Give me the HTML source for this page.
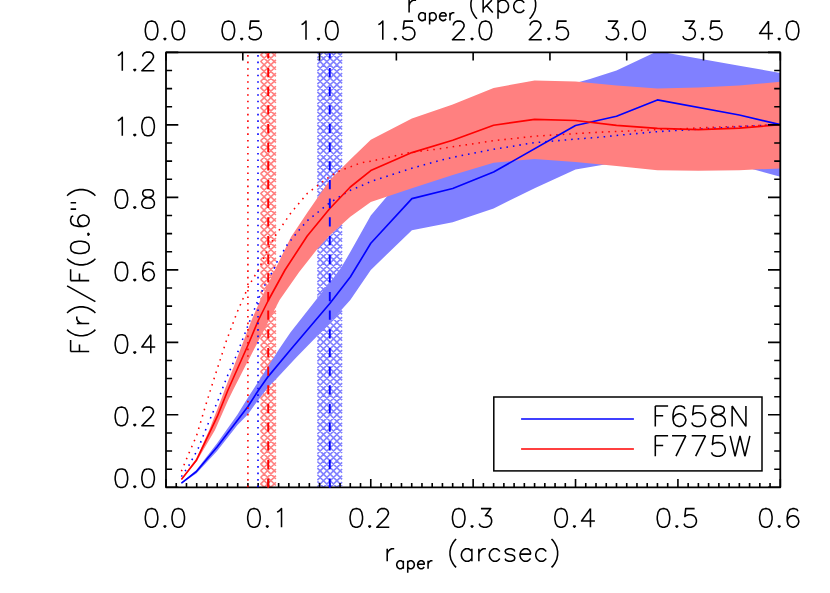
<!DOCTYPE html>
<html lang="en"><head><meta charset="utf-8"><title>Aperture growth curves</title>
<style>html,body{margin:0;padding:0;background:#fff}body{width:830px;height:593px;overflow:hidden;font-family:"Liberation Sans",sans-serif}svg{display:block}.t{font-family:"Liberation Sans",sans-serif;fill:#000;fill-opacity:0}</style></head><body>
<svg width="830" height="593" viewBox="0 0 830 593">
<rect width="830" height="593" fill="#fff"/>
<defs><clipPath id="c"><rect x="166.0" y="52.4" width="614.3" height="434.9"/></clipPath></defs>
<g clip-path="url(#c)">
<path d="M317.40 51.18L342.10 26.77M317.40 57.78L342.10 33.37M317.40 64.38L342.10 39.97M317.40 70.98L342.10 46.57M317.40 77.58L342.10 53.17M317.40 84.18L342.10 59.77M317.40 90.78L342.10 66.37M317.40 97.38L342.10 72.97M317.40 103.98L342.10 79.57M317.40 110.58L342.10 86.17M317.40 117.18L342.10 92.77M317.40 123.78L342.10 99.37M317.40 130.38L342.10 105.97M317.40 136.98L342.10 112.57M317.40 143.58L342.10 119.17M317.40 150.18L342.10 125.77M317.40 156.78L342.10 132.37M317.40 163.38L342.10 138.97M317.40 169.98L342.10 145.57M317.40 176.58L342.10 152.17M317.40 183.18L342.10 158.77M317.40 189.78L342.10 165.37M317.40 196.38L342.10 171.97M317.40 202.98L342.10 178.57M317.40 209.58L342.10 185.17M317.40 216.18L342.10 191.77M317.40 222.78L342.10 198.37M317.40 229.38L342.10 204.97M317.40 235.98L342.10 211.57M317.40 242.58L342.10 218.17M317.40 249.18L342.10 224.77M317.40 255.78L342.10 231.37M317.40 262.38L342.10 237.97M317.40 268.98L342.10 244.57M317.40 275.58L342.10 251.17M317.40 282.18L342.10 257.77M317.40 288.78L342.10 264.37M317.40 295.38L342.10 270.97M317.40 301.98L342.10 277.57M317.40 308.58L342.10 284.17M317.40 315.18L342.10 290.77M317.40 321.78L342.10 297.37M317.40 328.38L342.10 303.97M317.40 334.98L342.10 310.57M317.40 341.58L342.10 317.17M317.40 348.18L342.10 323.77M317.40 354.78L342.10 330.37M317.40 361.38L342.10 336.97M317.40 367.98L342.10 343.57M317.40 374.58L342.10 350.17M317.40 381.18L342.10 356.77M317.40 387.78L342.10 363.37M317.40 394.38L342.10 369.97M317.40 487.92L342.10 512.33M317.40 400.98L342.10 376.57M317.40 481.32L342.10 505.73M317.40 407.58L342.10 383.17M317.40 474.72L342.10 499.13M317.40 414.18L342.10 389.77M317.40 468.12L342.10 492.53M317.40 420.78L342.10 396.37M317.40 461.52L342.10 485.93M317.40 427.38L342.10 402.97M317.40 454.92L342.10 479.33M317.40 433.98L342.10 409.57M317.40 448.32L342.10 472.73M317.40 440.58L342.10 416.17M317.40 441.72L342.10 466.13M317.40 447.18L342.10 422.77M317.40 435.12L342.10 459.53M317.40 453.78L342.10 429.37M317.40 428.52L342.10 452.93M317.40 460.38L342.10 435.97M317.40 421.92L342.10 446.33M317.40 466.98L342.10 442.57M317.40 415.32L342.10 439.73M317.40 473.58L342.10 449.17M317.40 408.72L342.10 433.13M317.40 480.18L342.10 455.77M317.40 402.12L342.10 426.53M317.40 486.78L342.10 462.37M317.40 395.52L342.10 419.93M317.40 493.38L342.10 468.97M317.40 388.92L342.10 413.33M317.40 499.98L342.10 475.57M317.40 382.32L342.10 406.73M317.40 506.58L342.10 482.17M317.40 375.72L342.10 400.13M317.40 513.18L342.10 488.77M317.40 369.12L342.10 393.53M317.40 362.52L342.10 386.93M317.40 355.92L342.10 380.33M317.40 349.32L342.10 373.73M317.40 342.72L342.10 367.13M317.40 336.12L342.10 360.53M317.40 329.52L342.10 353.93M317.40 322.92L342.10 347.33M317.40 316.32L342.10 340.73M317.40 309.72L342.10 334.13M317.40 303.12L342.10 327.53M317.40 296.52L342.10 320.93M317.40 289.92L342.10 314.33M317.40 283.32L342.10 307.73M317.40 276.72L342.10 301.13M317.40 270.12L342.10 294.53M317.40 263.52L342.10 287.93M317.40 256.92L342.10 281.33M317.40 250.32L342.10 274.73M317.40 243.72L342.10 268.13M317.40 237.12L342.10 261.53M317.40 230.52L342.10 254.93M317.40 223.92L342.10 248.33M317.40 217.32L342.10 241.73M317.40 210.72L342.10 235.13M317.40 204.12L342.10 228.53M317.40 197.52L342.10 221.93M317.40 190.92L342.10 215.33M317.40 184.32L342.10 208.73M317.40 177.72L342.10 202.13M317.40 171.12L342.10 195.53M317.40 164.52L342.10 188.93M317.40 157.92L342.10 182.33M317.40 151.32L342.10 175.73M317.40 144.72L342.10 169.13M317.40 138.12L342.10 162.53M317.40 131.52L342.10 155.93M317.40 124.92L342.10 149.33M317.40 118.32L342.10 142.73M317.40 111.72L342.10 136.13M317.40 105.12L342.10 129.53M317.40 98.52L342.10 122.93M317.40 91.92L342.10 116.33M317.40 85.32L342.10 109.73M317.40 78.72L342.10 103.13M317.40 72.12L342.10 96.53M317.40 65.52L342.10 89.93M317.40 58.92L342.10 83.33M317.40 52.32L342.10 76.73M317.40 45.72L342.10 70.13M317.40 39.12L342.10 63.53M317.40 32.52L342.10 56.93" stroke="#8080ff" stroke-width="1.6" fill="none"/>
<path d="M260.50 55.12L275.90 40.06M260.50 61.72L275.90 46.66M260.50 68.32L275.90 53.26M260.50 74.92L275.90 59.86M260.50 81.52L275.90 66.46M260.50 88.12L275.90 73.06M260.50 94.72L275.90 79.66M260.50 101.32L275.90 86.26M260.50 107.92L275.90 92.86M260.50 114.52L275.90 99.46M260.50 121.12L275.90 106.06M260.50 127.72L275.90 112.66M260.50 134.32L275.90 119.26M260.50 140.92L275.90 125.86M260.50 147.52L275.90 132.46M260.50 154.12L275.90 139.06M260.50 160.72L275.90 145.66M260.50 167.32L275.90 152.26M260.50 173.92L275.90 158.86M260.50 180.52L275.90 165.46M260.50 187.12L275.90 172.06M260.50 193.72L275.90 178.66M260.50 200.32L275.90 185.26M260.50 206.92L275.90 191.86M260.50 213.52L275.90 198.46M260.50 220.12L275.90 205.06M260.50 226.72L275.90 211.66M260.50 233.32L275.90 218.26M260.50 239.92L275.90 224.86M260.50 246.52L275.90 231.46M260.50 253.12L275.90 238.06M260.50 259.72L275.90 244.66M260.50 266.32L275.90 251.26M260.50 272.92L275.90 257.86M260.50 279.52L275.90 264.46M260.50 286.12L275.90 271.06M260.50 292.72L275.90 277.66M260.50 299.32L275.90 284.26M260.50 305.92L275.90 290.86M260.50 312.52L275.90 297.46M260.50 319.12L275.90 304.06M260.50 325.72L275.90 310.66M260.50 332.32L275.90 317.26M260.50 338.92L275.90 323.86M260.50 345.52L275.90 330.46M260.50 352.12L275.90 337.06M260.50 358.72L275.90 343.66M260.50 365.32L275.90 350.26M260.50 371.92L275.90 356.86M260.50 378.52L275.90 363.46M260.50 385.12L275.90 370.06M260.50 391.72L275.90 376.66M260.50 398.32L275.90 383.26M260.50 483.68L275.90 498.74M260.50 404.92L275.90 389.86M260.50 477.08L275.90 492.14M260.50 411.52L275.90 396.46M260.50 470.48L275.90 485.54M260.50 418.12L275.90 403.06M260.50 463.88L275.90 478.94M260.50 424.72L275.90 409.66M260.50 457.28L275.90 472.34M260.50 431.32L275.90 416.26M260.50 450.68L275.90 465.74M260.50 437.92L275.90 422.86M260.50 444.08L275.90 459.14M260.50 444.52L275.90 429.46M260.50 437.48L275.90 452.54M260.50 451.12L275.90 436.06M260.50 430.88L275.90 445.94M260.50 457.72L275.90 442.66M260.50 424.28L275.90 439.34M260.50 464.32L275.90 449.26M260.50 417.68L275.90 432.74M260.50 470.92L275.90 455.86M260.50 411.08L275.90 426.14M260.50 477.52L275.90 462.46M260.50 404.48L275.90 419.54M260.50 484.12L275.90 469.06M260.50 397.88L275.90 412.94M260.50 490.72L275.90 475.66M260.50 391.28L275.90 406.34M260.50 497.32L275.90 482.26M260.50 384.68L275.90 399.74M260.50 503.92L275.90 488.86M260.50 378.08L275.90 393.14M260.50 371.48L275.90 386.54M260.50 364.88L275.90 379.94M260.50 358.28L275.90 373.34M260.50 351.68L275.90 366.74M260.50 345.08L275.90 360.14M260.50 338.48L275.90 353.54M260.50 331.88L275.90 346.94M260.50 325.28L275.90 340.34M260.50 318.68L275.90 333.74M260.50 312.08L275.90 327.14M260.50 305.48L275.90 320.54M260.50 298.88L275.90 313.94M260.50 292.28L275.90 307.34M260.50 285.68L275.90 300.74M260.50 279.08L275.90 294.14M260.50 272.48L275.90 287.54M260.50 265.88L275.90 280.94M260.50 259.28L275.90 274.34M260.50 252.68L275.90 267.74M260.50 246.08L275.90 261.14M260.50 239.48L275.90 254.54M260.50 232.88L275.90 247.94M260.50 226.28L275.90 241.34M260.50 219.68L275.90 234.74M260.50 213.08L275.90 228.14M260.50 206.48L275.90 221.54M260.50 199.88L275.90 214.94M260.50 193.28L275.90 208.34M260.50 186.68L275.90 201.74M260.50 180.08L275.90 195.14M260.50 173.48L275.90 188.54M260.50 166.88L275.90 181.94M260.50 160.28L275.90 175.34M260.50 153.68L275.90 168.74M260.50 147.08L275.90 162.14M260.50 140.48L275.90 155.54M260.50 133.88L275.90 148.94M260.50 127.28L275.90 142.34M260.50 120.68L275.90 135.74M260.50 114.08L275.90 129.14M260.50 107.48L275.90 122.54M260.50 100.88L275.90 115.94M260.50 94.28L275.90 109.34M260.50 87.68L275.90 102.74M260.50 81.08L275.90 96.14M260.50 74.48L275.90 89.54M260.50 67.88L275.90 82.94M260.50 61.28L275.90 76.34M260.50 54.68L275.90 69.74M260.50 48.08L275.90 63.14M260.50 41.48L275.90 56.54" stroke="#ff8080" stroke-width="1.6" fill="none"/>
<polygon points="181.4,482.7 196.6,469.8 217.1,443.3 237.5,414.4 247.8,397.8 258.1,381.9 268.1,366.5 278.5,350.0 290.4,332.5 323.8,290.0 329.6,283.0 341.4,267.3 350.3,252.0 370.8,215.5 411.9,167.0 452.7,153.0 493.6,131.0 534.6,108.0 575.5,83.0 590.0,79.1 616.5,70.6 657.4,51.2 698.4,58.5 739.3,65.7 780.3,72.9 780.3,176.7 739.3,165.6 698.4,161.0 657.4,160.0 616.5,162.4 575.5,169.5 534.6,188.2 493.6,208.4 452.7,222.3 411.9,230.2 370.8,269.9 350.3,300.0 329.6,323.0 317.7,335.5 296.0,357.7 276.2,378.9 268.1,387.2 258.1,400.2 247.8,414.4 237.5,425.0 217.1,450.9 196.6,473.2 181.4,483.8" fill="#8080ff"/>
<polygon points="181.4,479.0 196.6,458.0 209.2,430.0 220.9,400.0 224.6,390.0 234.2,365.6 251.6,320.0 260.4,300.0 274.8,270.0 291.0,237.0 307.2,212.7 329.6,180.3 350.3,159.5 370.8,139.7 411.9,118.4 452.7,104.5 493.6,87.9 534.6,80.6 575.5,81.5 616.5,85.5 657.4,88.5 698.4,87.5 739.3,85.5 780.3,81.7 780.3,168.4 739.3,170.2 698.4,170.7 657.4,170.2 616.5,165.9 575.5,161.9 534.6,158.9 493.6,162.7 452.7,175.1 411.9,188.2 370.8,202.0 350.3,216.8 329.6,235.5 317.3,249.0 299.2,272.0 279.6,300.0 248.2,360.7 245.6,365.6 233.1,390.0 228.2,400.0 215.0,430.0 196.6,461.5 181.4,480.0" fill="#ff8080"/>
<polyline points="181.4,476.6 189.0,465.3 198.1,448.6 207.9,424.3 217.8,400.8 225.0,382.0 227.3,376.3 237.4,353.0 247.5,326.7 258.7,298.4 264.7,285.3 273.8,269.3 276.9,262.0 287.0,245.0 300.0,229.0 307.2,220.8 329.4,203.0 349.7,190.5 360.0,186.4 370.8,181.5 411.9,168.3 440.0,160.3 460.0,155.8 493.6,149.2 534.6,142.7 575.5,139.1 600.0,137.2 616.0,135.5 657.0,131.7 698.0,129.2 739.0,126.7 780.3,124.6" stroke="#0000ff" stroke-width="1.55" stroke-dasharray="1.55 4.97" fill="none"/>
<polyline points="181.4,471.3 189.0,453.1 196.6,435.7 206.4,403.0 212.4,383.9 214.2,378.3 226.3,340.9 237.4,311.6 248.5,286.3 258.7,269.3 268.8,247.0 275.8,235.0 291.0,212.7 307.2,193.5 329.4,176.7 340.5,170.3 349.7,167.2 360.0,163.1 370.8,161.2 411.9,152.1 440.0,148.8 460.0,145.7 493.6,140.7 534.6,136.2 575.5,133.6 600.0,132.2 657.0,129.7 698.0,128.0 739.0,126.2 780.3,124.6" stroke="#ff0000" stroke-width="1.55" stroke-dasharray="1.55 4.97" fill="none"/>
<polyline points="181.4,483.2 196.6,471.3 217.1,447.0 247.8,406.7 258.1,390.7 268.1,376.6 290.3,350.0 329.8,303.5 350.3,277.0 370.8,243.3 411.9,198.6 452.7,188.5 493.6,172.0 575.5,125.5 616.5,116.3 657.4,99.9 739.3,115.0 780.3,124.6" stroke="#0000ff" stroke-width="1.65" fill="none" stroke-linejoin="round"/>
<polyline points="181.4,479.5 196.6,459.9 217.2,416.7 228.0,390.0 247.8,345.5 258.5,320.0 268.5,300.0 285.0,270.0 307.2,236.0 329.6,208.7 350.3,187.0 370.8,170.6 411.9,152.6 452.7,140.2 493.6,125.2 534.6,119.4 575.5,120.5 616.5,125.4 657.4,128.4 698.4,129.6 739.3,128.1 780.3,124.8" stroke="#ff0000" stroke-width="1.65" fill="none" stroke-linejoin="round"/>
</g>
<path d="M166.00 487.30v-8.20M176.24 487.30v-4.35M186.48 487.30v-4.35M196.72 487.30v-4.35M206.95 487.30v-4.35M217.19 487.30v-4.35M227.43 487.30v-4.35M237.67 487.30v-4.35M247.91 487.30v-4.35M258.14 487.30v-4.35M268.38 487.30v-8.20M278.62 487.30v-4.35M288.86 487.30v-4.35M299.10 487.30v-4.35M309.34 487.30v-4.35M319.57 487.30v-4.35M329.81 487.30v-4.35M340.05 487.30v-4.35M350.29 487.30v-4.35M360.53 487.30v-4.35M370.77 487.30v-8.20M381.00 487.30v-4.35M391.24 487.30v-4.35M401.48 487.30v-4.35M411.72 487.30v-4.35M421.96 487.30v-4.35M432.20 487.30v-4.35M442.44 487.30v-4.35M452.67 487.30v-4.35M462.91 487.30v-4.35M473.15 487.30v-8.20M483.39 487.30v-4.35M493.63 487.30v-4.35M503.87 487.30v-4.35M514.10 487.30v-4.35M524.34 487.30v-4.35M534.58 487.30v-4.35M544.82 487.30v-4.35M555.06 487.30v-4.35M565.30 487.30v-4.35M575.53 487.30v-8.20M585.77 487.30v-4.35M596.01 487.30v-4.35M606.25 487.30v-4.35M616.49 487.30v-4.35M626.73 487.30v-4.35M636.96 487.30v-4.35M647.20 487.30v-4.35M657.44 487.30v-4.35M667.68 487.30v-4.35M677.92 487.30v-8.20M688.16 487.30v-4.35M698.39 487.30v-4.35M708.63 487.30v-4.35M718.87 487.30v-4.35M729.11 487.30v-4.35M739.35 487.30v-4.35M749.59 487.30v-4.35M759.82 487.30v-4.35M770.06 487.30v-4.35M780.30 487.30v-8.20M166.00 52.40v8.20M242.79 52.40v8.20M319.57 52.40v8.20M396.36 52.40v8.20M473.15 52.40v8.20M549.94 52.40v8.20M626.72 52.40v8.20M703.51 52.40v8.20M780.30 52.40v8.20M166.00 487.30h12.30M780.30 487.30h-12.30M166.00 469.18h6.10M780.30 469.18h-6.10M166.00 451.06h6.10M780.30 451.06h-6.10M166.00 432.94h6.10M780.30 432.94h-6.10M166.00 414.82h12.30M780.30 414.82h-12.30M166.00 396.70h6.10M780.30 396.70h-6.10M166.00 378.57h6.10M780.30 378.57h-6.10M166.00 360.45h6.10M780.30 360.45h-6.10M166.00 342.33h12.30M780.30 342.33h-12.30M166.00 324.21h6.10M780.30 324.21h-6.10M166.00 306.09h6.10M780.30 306.09h-6.10M166.00 287.97h6.10M780.30 287.97h-6.10M166.00 269.85h12.30M780.30 269.85h-12.30M166.00 251.73h6.10M780.30 251.73h-6.10M166.00 233.61h6.10M780.30 233.61h-6.10M166.00 215.49h6.10M780.30 215.49h-6.10M166.00 197.37h12.30M780.30 197.37h-12.30M166.00 179.25h6.10M780.30 179.25h-6.10M166.00 161.12h6.10M780.30 161.12h-6.10M166.00 143.00h6.10M780.30 143.00h-6.10M166.00 124.88h12.30M780.30 124.88h-12.30M166.00 106.76h6.10M780.30 106.76h-6.10M166.00 88.64h6.10M780.30 88.64h-6.10M166.00 70.52h6.10M780.30 70.52h-6.10M166.00 52.40h12.30M780.30 52.40h-12.30" stroke="#000" stroke-width="1.6" fill="none"/>
<rect x="166.0" y="52.4" width="614.3" height="434.9" fill="none" stroke="#000" stroke-width="1.8" stroke-linejoin="round"/>
<path d="M329.8 487.8V53.3" stroke="#0000ff" stroke-width="1.9" stroke-dasharray="9.3 9.36" fill="none"/>
<path d="M268.2 487.8V53.3" stroke="#ff0000" stroke-width="1.9" stroke-dasharray="9.3 9.36" fill="none"/>
<path d="M247.9 487.2V53.3" stroke="#ff0000" stroke-width="1.6" stroke-dasharray="1.6 4.923" fill="none"/>
<path d="M258.0 487.2V53.3" stroke="#0000ff" stroke-width="1.6" stroke-dasharray="1.6 4.923" fill="none"/>
<rect x="493.8" y="397" width="268.2" height="73.9" fill="#fff" stroke="#000" stroke-width="1.5"/>
<path d="M521.1 419H633.9" stroke="#0000ff" stroke-width="1.5"/>
<path d="M521.1 448.9H633.9" stroke="#ff0000" stroke-width="1.5"/>
<path d="M150.66 508.62 L147.99 509.50 L146.21 512.16 L145.32 516.58 L145.32 519.24 L146.21 523.66 L147.99 526.32 L150.66 527.20 L152.44 527.20 L155.11 526.32 L156.89 523.66 L157.78 519.24 L157.78 516.58 L156.89 512.16 L155.11 509.50 L152.44 508.62 L150.66 508.62 M164.90 525.43 L164.01 526.32 L164.90 527.20 L165.79 526.32 L164.90 525.43 M177.36 508.62 L174.69 509.50 L172.91 512.16 L172.02 516.58 L172.02 519.24 L172.91 523.66 L174.69 526.32 L177.36 527.20 L179.14 527.20 L181.81 526.32 L183.59 523.66 L184.48 519.24 L184.48 516.58 L183.59 512.16 L181.81 509.50 L179.14 508.62 L177.36 508.62 M253.04 508.62 L250.37 509.50 L248.59 512.16 L247.70 516.58 L247.70 519.24 L248.59 523.66 L250.37 526.32 L253.04 527.20 L254.82 527.20 L257.49 526.32 L259.27 523.66 L260.16 519.24 L260.16 516.58 L259.27 512.16 L257.49 509.50 L254.82 508.62 L253.04 508.62 M267.28 525.43 L266.39 526.32 L267.28 527.20 L268.17 526.32 L267.28 525.43 M277.07 512.16 L278.85 511.27 L281.52 508.62 L281.52 527.20 M355.43 508.62 L352.76 509.50 L350.98 512.16 L350.09 516.58 L350.09 519.24 L350.98 523.66 L352.76 526.32 L355.43 527.20 L357.21 527.20 L359.88 526.32 L361.66 523.66 L362.55 519.24 L362.55 516.58 L361.66 512.16 L359.88 509.50 L357.21 508.62 L355.43 508.62 M369.67 525.43 L368.78 526.32 L369.67 527.20 L370.56 526.32 L369.67 525.43 M377.68 513.04 L377.68 512.16 L378.57 510.39 L379.46 509.50 L381.24 508.62 L384.80 508.62 L386.58 509.50 L387.47 510.39 L388.36 512.16 L388.36 513.93 L387.47 515.70 L385.69 518.35 L376.79 527.20 L389.25 527.20 M457.81 508.62 L455.14 509.50 L453.36 512.16 L452.47 516.58 L452.47 519.24 L453.36 523.66 L455.14 526.32 L457.81 527.20 L459.59 527.20 L462.26 526.32 L464.04 523.66 L464.93 519.24 L464.93 516.58 L464.04 512.16 L462.26 509.50 L459.59 508.62 L457.81 508.62 M472.05 525.43 L471.16 526.32 L472.05 527.20 L472.94 526.32 L472.05 525.43 M480.95 508.62 L490.74 508.62 L485.40 515.70 L488.07 515.70 L489.85 516.58 L490.74 517.47 L491.63 520.12 L491.63 521.89 L490.74 524.55 L488.96 526.32 L486.29 527.20 L483.62 527.20 L480.95 526.32 L480.06 525.43 L479.17 523.66 M560.19 508.62 L557.52 509.50 L555.74 512.16 L554.85 516.58 L554.85 519.24 L555.74 523.66 L557.52 526.32 L560.19 527.20 L561.97 527.20 L564.64 526.32 L566.42 523.66 L567.31 519.24 L567.31 516.58 L566.42 512.16 L564.64 509.50 L561.97 508.62 L560.19 508.62 M574.43 525.43 L573.54 526.32 L574.43 527.20 L575.32 526.32 L574.43 525.43 M590.45 508.62 L581.55 521.00 L594.90 521.00 M590.45 508.62 L590.45 527.20 M662.58 508.62 L659.91 509.50 L658.13 512.16 L657.24 516.58 L657.24 519.24 L658.13 523.66 L659.91 526.32 L662.58 527.20 L664.36 527.20 L667.03 526.32 L668.81 523.66 L669.70 519.24 L669.70 516.58 L668.81 512.16 L667.03 509.50 L664.36 508.62 L662.58 508.62 M676.82 525.43 L675.93 526.32 L676.82 527.20 L677.71 526.32 L676.82 525.43 M694.62 508.62 L685.72 508.62 L684.83 516.58 L685.72 515.70 L688.39 514.81 L691.06 514.81 L693.73 515.70 L695.51 517.47 L696.40 520.12 L696.40 521.89 L695.51 524.55 L693.73 526.32 L691.06 527.20 L688.39 527.20 L685.72 526.32 L684.83 525.43 L683.94 523.66 M764.96 508.62 L762.29 509.50 L760.51 512.16 L759.62 516.58 L759.62 519.24 L760.51 523.66 L762.29 526.32 L764.96 527.20 L766.74 527.20 L769.41 526.32 L771.19 523.66 L772.08 519.24 L772.08 516.58 L771.19 512.16 L769.41 509.50 L766.74 508.62 L764.96 508.62 M779.20 525.43 L778.31 526.32 L779.20 527.20 L780.09 526.32 L779.20 525.43 M797.89 511.27 L797.00 509.50 L794.33 508.62 L792.55 508.62 L789.88 509.50 L788.10 512.16 L787.21 516.58 L787.21 521.00 L788.10 524.55 L789.88 526.32 L792.55 527.20 L793.44 527.20 L796.11 526.32 L797.89 524.55 L798.78 521.89 L798.78 521.00 L797.89 518.35 L796.11 516.58 L793.44 515.70 L792.55 515.70 L789.88 516.58 L788.10 518.35 L787.21 521.00 M150.66 21.12 L147.99 22.00 L146.21 24.66 L145.32 29.08 L145.32 31.74 L146.21 36.16 L147.99 38.82 L150.66 39.70 L152.44 39.70 L155.11 38.82 L156.89 36.16 L157.78 31.74 L157.78 29.08 L156.89 24.66 L155.11 22.00 L152.44 21.12 L150.66 21.12 M164.90 37.93 L164.01 38.82 L164.90 39.70 L165.79 38.82 L164.90 37.93 M177.36 21.12 L174.69 22.00 L172.91 24.66 L172.02 29.08 L172.02 31.74 L172.91 36.16 L174.69 38.82 L177.36 39.70 L179.14 39.70 L181.81 38.82 L183.59 36.16 L184.48 31.74 L184.48 29.08 L183.59 24.66 L181.81 22.00 L179.14 21.12 L177.36 21.12 M227.45 21.12 L224.78 22.00 L223.00 24.66 L222.11 29.08 L222.11 31.74 L223.00 36.16 L224.78 38.82 L227.45 39.70 L229.23 39.70 L231.90 38.82 L233.68 36.16 L234.57 31.74 L234.57 29.08 L233.68 24.66 L231.90 22.00 L229.23 21.12 L227.45 21.12 M241.69 37.93 L240.80 38.82 L241.69 39.70 L242.58 38.82 L241.69 37.93 M259.49 21.12 L250.59 21.12 L249.70 29.08 L250.59 28.20 L253.26 27.31 L255.93 27.31 L258.60 28.20 L260.38 29.97 L261.27 32.62 L261.27 34.39 L260.38 37.05 L258.60 38.82 L255.93 39.70 L253.26 39.70 L250.59 38.82 L249.70 37.93 L248.81 36.16 M301.56 24.66 L303.34 23.77 L306.01 21.12 L306.01 39.70 M318.47 37.93 L317.58 38.82 L318.47 39.70 L319.36 38.82 L318.47 37.93 M330.93 21.12 L328.26 22.00 L326.48 24.66 L325.59 29.08 L325.59 31.74 L326.48 36.16 L328.26 38.82 L330.93 39.70 L332.71 39.70 L335.38 38.82 L337.16 36.16 L338.05 31.74 L338.05 29.08 L337.16 24.66 L335.38 22.00 L332.71 21.12 L330.93 21.12 M378.35 24.66 L380.13 23.77 L382.80 21.12 L382.80 39.70 M395.26 37.93 L394.37 38.82 L395.26 39.70 L396.15 38.82 L395.26 37.93 M413.06 21.12 L404.16 21.12 L403.27 29.08 L404.16 28.20 L406.83 27.31 L409.50 27.31 L412.17 28.20 L413.95 29.97 L414.84 32.62 L414.84 34.39 L413.95 37.05 L412.17 38.82 L409.50 39.70 L406.83 39.70 L404.16 38.82 L403.27 37.93 L402.38 36.16 M453.36 25.54 L453.36 24.66 L454.25 22.89 L455.14 22.00 L456.92 21.12 L460.48 21.12 L462.26 22.00 L463.15 22.89 L464.04 24.66 L464.04 26.43 L463.15 28.20 L461.37 30.85 L452.47 39.70 L464.93 39.70 M472.05 37.93 L471.16 38.82 L472.05 39.70 L472.94 38.82 L472.05 37.93 M484.51 21.12 L481.84 22.00 L480.06 24.66 L479.17 29.08 L479.17 31.74 L480.06 36.16 L481.84 38.82 L484.51 39.70 L486.29 39.70 L488.96 38.82 L490.74 36.16 L491.63 31.74 L491.63 29.08 L490.74 24.66 L488.96 22.00 L486.29 21.12 L484.51 21.12 M530.15 25.54 L530.15 24.66 L531.04 22.89 L531.93 22.00 L533.71 21.12 L537.27 21.12 L539.05 22.00 L539.94 22.89 L540.83 24.66 L540.83 26.43 L539.94 28.20 L538.16 30.85 L529.26 39.70 L541.72 39.70 M548.84 37.93 L547.95 38.82 L548.84 39.70 L549.73 38.82 L548.84 37.93 M566.64 21.12 L557.74 21.12 L556.85 29.08 L557.74 28.20 L560.41 27.31 L563.08 27.31 L565.75 28.20 L567.53 29.97 L568.42 32.62 L568.42 34.39 L567.53 37.05 L565.75 38.82 L563.08 39.70 L560.41 39.70 L557.74 38.82 L556.85 37.93 L555.96 36.16 M607.82 21.12 L617.61 21.12 L612.27 28.20 L614.94 28.20 L616.72 29.08 L617.61 29.97 L618.50 32.62 L618.50 34.39 L617.61 37.05 L615.83 38.82 L613.16 39.70 L610.49 39.70 L607.82 38.82 L606.93 37.93 L606.04 36.16 M625.62 37.93 L624.73 38.82 L625.62 39.70 L626.51 38.82 L625.62 37.93 M638.08 21.12 L635.41 22.00 L633.63 24.66 L632.74 29.08 L632.74 31.74 L633.63 36.16 L635.41 38.82 L638.08 39.70 L639.86 39.70 L642.53 38.82 L644.31 36.16 L645.20 31.74 L645.20 29.08 L644.31 24.66 L642.53 22.00 L639.86 21.12 L638.08 21.12 M684.61 21.12 L694.40 21.12 L689.06 28.20 L691.73 28.20 L693.51 29.08 L694.40 29.97 L695.29 32.62 L695.29 34.39 L694.40 37.05 L692.62 38.82 L689.95 39.70 L687.28 39.70 L684.61 38.82 L683.72 37.93 L682.83 36.16 M702.41 37.93 L701.52 38.82 L702.41 39.70 L703.30 38.82 L702.41 37.93 M720.21 21.12 L711.31 21.12 L710.42 29.08 L711.31 28.20 L713.98 27.31 L716.65 27.31 L719.32 28.20 L721.10 29.97 L721.99 32.62 L721.99 34.39 L721.10 37.05 L719.32 38.82 L716.65 39.70 L713.98 39.70 L711.31 38.82 L710.42 37.93 L709.53 36.16 M768.52 21.12 L759.62 33.51 L772.97 33.51 M768.52 21.12 L768.52 39.70 M779.20 37.93 L778.31 38.82 L779.20 39.70 L780.09 38.82 L779.20 37.93 M791.66 21.12 L788.99 22.00 L787.21 24.66 L786.32 29.08 L786.32 31.74 L787.21 36.16 L788.99 38.82 L791.66 39.70 L793.44 39.70 L796.11 38.82 L797.89 36.16 L798.78 31.74 L798.78 29.08 L797.89 24.66 L796.11 22.00 L793.44 21.12 L791.66 21.12 M120.51 468.92 L117.84 469.80 L116.06 472.45 L115.17 476.88 L115.17 479.54 L116.06 483.96 L117.84 486.62 L120.51 487.50 L122.29 487.50 L124.96 486.62 L126.74 483.96 L127.63 479.54 L127.63 476.88 L126.74 472.45 L124.96 469.80 L122.29 468.92 L120.51 468.92 M134.75 485.73 L133.86 486.62 L134.75 487.50 L135.64 486.62 L134.75 485.73 M147.21 468.92 L144.54 469.80 L142.76 472.45 L141.87 476.88 L141.87 479.54 L142.76 483.96 L144.54 486.62 L147.21 487.50 L148.99 487.50 L151.66 486.62 L153.44 483.96 L154.33 479.54 L154.33 476.88 L153.44 472.45 L151.66 469.80 L148.99 468.92 L147.21 468.92 M120.51 407.13 L117.84 408.02 L116.06 410.67 L115.17 415.10 L115.17 417.75 L116.06 422.18 L117.84 424.83 L120.51 425.72 L122.29 425.72 L124.96 424.83 L126.74 422.18 L127.63 417.75 L127.63 415.10 L126.74 410.67 L124.96 408.02 L122.29 407.13 L120.51 407.13 M134.75 423.95 L133.86 424.83 L134.75 425.72 L135.64 424.83 L134.75 423.95 M142.76 411.56 L142.76 410.67 L143.65 408.90 L144.54 408.02 L146.32 407.13 L149.88 407.13 L151.66 408.02 L152.55 408.90 L153.44 410.67 L153.44 412.44 L152.55 414.21 L150.77 416.87 L141.87 425.72 L154.33 425.72 M120.51 334.65 L117.84 335.53 L116.06 338.19 L115.17 342.61 L115.17 345.27 L116.06 349.69 L117.84 352.35 L120.51 353.23 L122.29 353.23 L124.96 352.35 L126.74 349.69 L127.63 345.27 L127.63 342.61 L126.74 338.19 L124.96 335.53 L122.29 334.65 L120.51 334.65 M134.75 351.46 L133.86 352.35 L134.75 353.23 L135.64 352.35 L134.75 351.46 M150.77 334.65 L141.87 347.04 L155.22 347.04 M150.77 334.65 L150.77 353.23 M120.51 262.16 L117.84 263.05 L116.06 265.70 L115.17 270.13 L115.17 272.78 L116.06 277.21 L117.84 279.86 L120.51 280.75 L122.29 280.75 L124.96 279.86 L126.74 277.21 L127.63 272.78 L127.63 270.13 L126.74 265.70 L124.96 263.05 L122.29 262.16 L120.51 262.16 M134.75 278.98 L133.86 279.86 L134.75 280.75 L135.64 279.86 L134.75 278.98 M153.44 264.82 L152.55 263.05 L149.88 262.16 L148.10 262.16 L145.43 263.05 L143.65 265.70 L142.76 270.13 L142.76 274.55 L143.65 278.09 L145.43 279.86 L148.10 280.75 L148.99 280.75 L151.66 279.86 L153.44 278.09 L154.33 275.44 L154.33 274.55 L153.44 271.90 L151.66 270.13 L148.99 269.24 L148.10 269.24 L145.43 270.13 L143.65 271.90 L142.76 274.55 M120.51 189.68 L117.84 190.57 L116.06 193.22 L115.17 197.65 L115.17 200.30 L116.06 204.73 L117.84 207.38 L120.51 208.27 L122.29 208.27 L124.96 207.38 L126.74 204.73 L127.63 200.30 L127.63 197.65 L126.74 193.22 L124.96 190.57 L122.29 189.68 L120.51 189.68 M134.75 206.50 L133.86 207.38 L134.75 208.27 L135.64 207.38 L134.75 206.50 M146.32 189.68 L143.65 190.57 L142.76 192.34 L142.76 194.11 L143.65 195.88 L145.43 196.76 L148.99 197.65 L151.66 198.53 L153.44 200.30 L154.33 202.07 L154.33 204.73 L153.44 206.50 L152.55 207.38 L149.88 208.27 L146.32 208.27 L143.65 207.38 L142.76 206.50 L141.87 204.73 L141.87 202.07 L142.76 200.30 L144.54 198.53 L147.21 197.65 L150.77 196.76 L152.55 195.88 L153.44 194.11 L153.44 192.34 L152.55 190.57 L149.88 189.68 L146.32 189.68 M117.84 120.74 L119.62 119.85 L122.29 117.20 L122.29 135.78 M134.75 134.01 L133.86 134.90 L134.75 135.78 L135.64 134.90 L134.75 134.01 M147.21 117.20 L144.54 118.08 L142.76 120.74 L141.87 125.16 L141.87 127.82 L142.76 132.24 L144.54 134.90 L147.21 135.78 L148.99 135.78 L151.66 134.90 L153.44 132.24 L154.33 127.82 L154.33 125.16 L153.44 120.74 L151.66 118.08 L148.99 117.20 L147.21 117.20 M117.84 55.66 L119.62 54.77 L122.29 52.12 L122.29 70.70 M134.75 68.93 L133.86 69.81 L134.75 70.70 L135.64 69.81 L134.75 68.93 M142.76 56.54 L142.76 55.66 L143.65 53.89 L144.54 53.00 L146.32 52.12 L149.88 52.12 L151.66 53.00 L152.55 53.89 L153.44 55.66 L153.44 57.43 L152.55 59.20 L150.77 61.85 L141.87 70.70 L154.33 70.70 M655.30 406.03 L655.30 426.40 M655.30 406.03 L668.10 406.03 M655.30 415.73 L663.18 415.73 M684.85 408.94 L683.86 407.00 L680.91 406.03 L678.94 406.03 L675.98 407.00 L674.01 409.91 L673.03 414.76 L673.03 419.61 L674.01 423.49 L675.98 425.43 L678.94 426.40 L679.92 426.40 L682.88 425.43 L684.85 423.49 L685.83 420.58 L685.83 419.61 L684.85 416.70 L682.88 414.76 L679.92 413.79 L678.94 413.79 L675.98 414.76 L674.01 416.70 L673.03 419.61 M703.56 406.03 L693.71 406.03 L692.73 414.76 L693.71 413.79 L696.67 412.82 L699.62 412.82 L702.58 413.79 L704.55 415.73 L705.53 418.64 L705.53 420.58 L704.55 423.49 L702.58 425.43 L699.62 426.40 L696.67 426.40 L693.71 425.43 L692.73 424.46 L691.74 422.52 M716.37 406.03 L713.41 407.00 L712.43 408.94 L712.43 410.88 L713.41 412.82 L715.38 413.79 L719.32 414.76 L722.28 415.73 L724.25 417.67 L725.23 419.61 L725.23 422.52 L724.25 424.46 L723.26 425.43 L720.31 426.40 L716.37 426.40 L713.41 425.43 L712.43 424.46 L711.44 422.52 L711.44 419.61 L712.43 417.67 L714.40 415.73 L717.35 414.76 L721.29 413.79 L723.26 412.82 L724.25 410.88 L724.25 408.94 L723.26 407.00 L720.31 406.03 L716.37 406.03 M732.13 406.03 L732.13 426.40 M732.13 406.03 L745.92 426.40 M745.92 406.03 L745.92 426.40 M655.30 435.83 L655.30 456.20 M655.30 435.83 L668.10 435.83 M655.30 445.53 L663.18 445.53 M685.83 435.83 L675.98 456.20 M672.04 435.83 L685.83 435.83 M705.53 435.83 L695.68 456.20 M691.74 435.83 L705.53 435.83 M723.26 435.83 L713.41 435.83 L712.43 444.56 L713.41 443.59 L716.37 442.62 L719.32 442.62 L722.28 443.59 L724.25 445.53 L725.23 448.44 L725.23 450.38 L724.25 453.29 L722.28 455.23 L719.32 456.20 L716.37 456.20 L713.41 455.23 L712.43 454.26 L711.44 452.32 M730.16 435.83 L735.08 456.20 M740.01 435.83 L735.08 456.20 M740.01 435.83 L744.93 456.20 M749.86 435.83 L744.93 456.20 M387.20 548.81 L387.20 561.20 M387.20 554.12 L388.07 551.47 L389.82 549.70 L391.57 548.81 L394.20 548.81 M403.32 560.77 L403.32 568.70 M403.32 562.47 L402.22 561.34 L401.12 560.77 L399.47 560.77 L398.38 561.34 L397.27 562.47 L396.72 564.17 L396.72 565.30 L397.27 567.00 L398.38 568.13 L399.47 568.70 L401.12 568.70 L402.22 568.13 L403.32 567.00 M407.72 560.77 L407.72 572.66 M407.72 562.47 L408.82 561.34 L409.93 560.77 L411.57 560.77 L412.68 561.34 L413.77 562.47 L414.32 564.17 L414.32 565.30 L413.77 567.00 L412.68 568.13 L411.57 568.70 L409.93 568.70 L408.82 568.13 L407.72 567.00 M417.62 564.17 L424.22 564.17 L424.22 563.04 L423.68 561.90 L423.12 561.34 L422.02 560.77 L420.38 560.77 L419.27 561.34 L418.18 562.47 L417.62 564.17 L417.62 565.30 L418.18 567.00 L419.27 568.13 L420.38 568.70 L422.02 568.70 L423.12 568.13 L424.22 567.00 M428.07 560.77 L428.07 568.70 M428.07 564.17 L428.62 562.47 L429.73 561.34 L430.82 560.77 L432.48 560.77 M456.12 539.08 L454.38 540.85 L452.62 543.50 L450.88 547.04 L450.00 551.47 L450.00 555.00 L450.88 559.43 L452.62 562.97 L454.38 565.62 L456.12 567.40 M471.88 548.81 L471.88 561.20 M471.88 551.47 L470.12 549.70 L468.38 548.81 L465.75 548.81 L464.00 549.70 L462.25 551.47 L461.38 554.12 L461.38 555.89 L462.25 558.55 L464.00 560.32 L465.75 561.20 L468.38 561.20 L470.12 560.32 L471.88 558.55 M478.88 548.81 L478.88 561.20 M478.88 554.12 L479.75 551.47 L481.50 549.70 L483.25 548.81 L485.88 548.81 M499.88 551.47 L498.12 549.70 L496.38 548.81 L493.75 548.81 L492.00 549.70 L490.25 551.47 L489.38 554.12 L489.38 555.89 L490.25 558.55 L492.00 560.32 L493.75 561.20 L496.38 561.20 L498.12 560.32 L499.88 558.55 M514.75 551.47 L513.88 549.70 L511.25 548.81 L508.62 548.81 L506.00 549.70 L505.12 551.47 L506.00 553.24 L507.75 554.12 L512.12 555.00 L513.88 555.89 L514.75 557.66 L514.75 558.55 L513.88 560.32 L511.25 561.20 L508.62 561.20 L506.00 560.32 L505.12 558.55 M520.00 554.12 L530.50 554.12 L530.50 552.35 L529.62 550.58 L528.75 549.70 L527.00 548.81 L524.38 548.81 L522.62 549.70 L520.88 551.47 L520.00 554.12 L520.00 555.89 L520.88 558.55 L522.62 560.32 L524.38 561.20 L527.00 561.20 L528.75 560.32 L530.50 558.55 M546.25 551.47 L544.50 549.70 L542.75 548.81 L540.12 548.81 L538.38 549.70 L536.62 551.47 L535.75 554.12 L535.75 555.89 L536.62 558.55 L538.38 560.32 L540.12 561.20 L542.75 561.20 L544.50 560.32 L546.25 558.55 M551.50 539.08 L553.25 540.85 L555.00 543.50 L556.75 547.04 L557.62 551.47 L557.62 555.00 L556.75 559.43 L555.00 562.97 L553.25 565.62 L551.50 567.40 M409.10 0.11 L409.10 12.50 M409.10 5.42 L409.98 2.77 L411.73 0.99 L413.48 0.11 L416.10 0.11 M425.23 12.67 L425.23 20.60 M425.23 14.37 L424.12 13.24 L423.03 12.67 L421.38 12.67 L420.28 13.24 L419.18 14.37 L418.62 16.07 L418.62 17.20 L419.18 18.90 L420.28 20.03 L421.38 20.60 L423.03 20.60 L424.12 20.03 L425.23 18.90 M429.62 12.67 L429.62 24.56 M429.62 14.37 L430.73 13.24 L431.83 12.67 L433.48 12.67 L434.58 13.24 L435.68 14.37 L436.23 16.07 L436.23 17.20 L435.68 18.90 L434.58 20.03 L433.48 20.60 L431.83 20.60 L430.73 20.03 L429.62 18.90 M439.53 16.07 L446.12 16.07 L446.12 14.94 L445.58 13.80 L445.03 13.24 L443.93 12.67 L442.28 12.67 L441.18 13.24 L440.08 14.37 L439.53 16.07 L439.53 17.20 L440.08 18.90 L441.18 20.03 L442.28 20.60 L443.93 20.60 L445.03 20.03 L446.12 18.90 M449.98 12.67 L449.98 20.60 M449.98 16.07 L450.53 14.37 L451.62 13.24 L452.73 12.67 L454.38 12.67 M477.02 -9.62 L475.27 -7.86 L473.52 -5.20 L471.77 -1.66 L470.90 2.77 L470.90 6.30 L471.77 10.73 L473.52 14.27 L475.27 16.93 L477.02 18.70 M483.15 -6.09 L483.15 12.50 M491.90 0.11 L483.15 8.96 M486.65 5.42 L492.77 12.50 M498.02 0.11 L498.02 18.70 M498.02 2.77 L499.77 0.99 L501.52 0.11 L504.15 0.11 L505.90 0.99 L507.65 2.77 L508.52 5.42 L508.52 7.19 L507.65 9.84 L505.90 11.62 L504.15 12.50 L501.52 12.50 L499.77 11.62 L498.02 9.84 M524.27 2.77 L522.52 0.99 L520.77 0.11 L518.15 0.11 L516.40 0.99 L514.65 2.77 L513.77 5.42 L513.77 7.19 L514.65 9.84 L516.40 11.62 L518.15 12.50 L520.77 12.50 L522.52 11.62 L524.27 9.84 M529.52 -9.62 L531.27 -7.86 L533.02 -5.20 L534.77 -1.66 L535.65 2.77 L535.65 6.30 L534.77 10.73 L533.02 14.27 L531.27 16.93 L529.52 18.70 M70.62 351.50 L89.20 351.50 M70.62 351.50 L70.62 340.12 M79.47 351.50 L79.47 344.50 M67.08 329.62 L68.84 331.38 L71.50 333.12 L75.04 334.88 L79.47 335.75 L83.00 335.75 L87.43 334.88 L90.97 333.12 L93.62 331.38 L95.40 329.62 M76.81 323.50 L89.20 323.50 M82.12 323.50 L79.47 322.62 L77.70 320.88 L76.81 319.12 L76.81 316.50 M67.08 313.00 L68.84 311.25 L71.50 309.50 L75.04 307.75 L79.47 306.88 L83.00 306.88 L87.43 307.75 L90.97 309.50 L93.62 311.25 L95.40 313.00 M67.08 285.88 L95.40 301.62 M70.62 280.62 L89.20 280.62 M70.62 280.62 L70.62 269.25 M79.47 280.62 L79.47 273.62 M67.08 258.75 L68.84 260.50 L71.50 262.25 L75.04 264.00 L79.47 264.88 L83.00 264.88 L87.43 264.00 L90.97 262.25 L93.62 260.50 L95.40 258.75 M70.62 248.25 L71.50 250.88 L74.16 252.62 L78.58 253.50 L81.23 253.50 L85.66 252.62 L88.31 250.88 L89.20 248.25 L89.20 246.50 L88.31 243.88 L85.66 242.12 L81.23 241.25 L78.58 241.25 L74.16 242.12 L71.50 243.88 L70.62 246.50 L70.62 248.25 M87.43 234.25 L88.31 235.12 L89.20 234.25 L88.31 233.38 L87.43 234.25 M73.27 215.88 L71.50 216.75 L70.62 219.38 L70.62 221.12 L71.50 223.75 L74.16 225.50 L78.58 226.38 L83.00 226.38 L86.55 225.50 L88.31 223.75 L89.20 221.12 L89.20 220.25 L88.31 217.62 L86.55 215.88 L83.89 215.00 L83.00 215.00 L80.35 215.88 L78.58 217.62 L77.70 220.25 L77.70 221.12 L78.58 223.75 L80.35 225.50 L83.00 226.38 M70.62 209.14 L76.10 209.14 M70.62 202.66 L76.10 202.66 M67.08 195.75 L68.84 194.00 L71.50 192.25 L75.04 190.50 L79.47 189.62 L83.00 189.62 L87.43 190.50 L90.97 192.25 L93.62 194.00 L95.40 195.75" stroke="#000" stroke-width="1.55" fill="none" stroke-linecap="butt" stroke-linejoin="round"/>
<text class="t" x="166.0" y="527.2" text-anchor="middle" font-size="24">0.0</text>
<text class="t" x="268.4" y="527.2" text-anchor="middle" font-size="24">0.1</text>
<text class="t" x="370.8" y="527.2" text-anchor="middle" font-size="24">0.2</text>
<text class="t" x="473.2" y="527.2" text-anchor="middle" font-size="24">0.3</text>
<text class="t" x="575.5" y="527.2" text-anchor="middle" font-size="24">0.4</text>
<text class="t" x="677.9" y="527.2" text-anchor="middle" font-size="24">0.5</text>
<text class="t" x="780.3" y="527.2" text-anchor="middle" font-size="24">0.6</text>
<text class="t" x="166.0" y="39.7" text-anchor="middle" font-size="24">0.0</text>
<text class="t" x="242.8" y="39.7" text-anchor="middle" font-size="24">0.5</text>
<text class="t" x="319.6" y="39.7" text-anchor="middle" font-size="24">1.0</text>
<text class="t" x="396.4" y="39.7" text-anchor="middle" font-size="24">1.5</text>
<text class="t" x="473.1" y="39.7" text-anchor="middle" font-size="24">2.0</text>
<text class="t" x="549.9" y="39.7" text-anchor="middle" font-size="24">2.5</text>
<text class="t" x="626.7" y="39.7" text-anchor="middle" font-size="24">3.0</text>
<text class="t" x="703.5" y="39.7" text-anchor="middle" font-size="24">3.5</text>
<text class="t" x="780.3" y="39.7" text-anchor="middle" font-size="24">4.0</text>
<text class="t" x="157.0" y="487.5" text-anchor="end" font-size="24">0.0</text>
<text class="t" x="157.0" y="425.7" text-anchor="end" font-size="24">0.2</text>
<text class="t" x="157.0" y="353.2" text-anchor="end" font-size="24">0.4</text>
<text class="t" x="157.0" y="280.7" text-anchor="end" font-size="24">0.6</text>
<text class="t" x="157.0" y="208.3" text-anchor="end" font-size="24">0.8</text>
<text class="t" x="157.0" y="135.8" text-anchor="end" font-size="24">1.0</text>
<text class="t" x="157.0" y="70.7" text-anchor="end" font-size="24">1.2</text>
<text class="t" x="651.0" y="426.0" text-anchor="start" font-size="24">F658N</text>
<text class="t" x="651.0" y="455.8" text-anchor="start" font-size="24">F775W</text>
<text class="t" x="473" y="561" text-anchor="middle" font-size="24">r<tspan dy="6" font-size="15">aper</tspan><tspan dy="-6"> (arcsec)</tspan></text>
<text class="t" x="473" y="12" text-anchor="middle" font-size="24">r<tspan dy="6" font-size="15">aper</tspan><tspan dy="-6"> (kpc)</tspan></text>
<text class="t" x="88" y="270" text-anchor="middle" font-size="24" transform="rotate(-90 88 270)">F(r)/F(0.6'')</text>
</svg></body></html>
